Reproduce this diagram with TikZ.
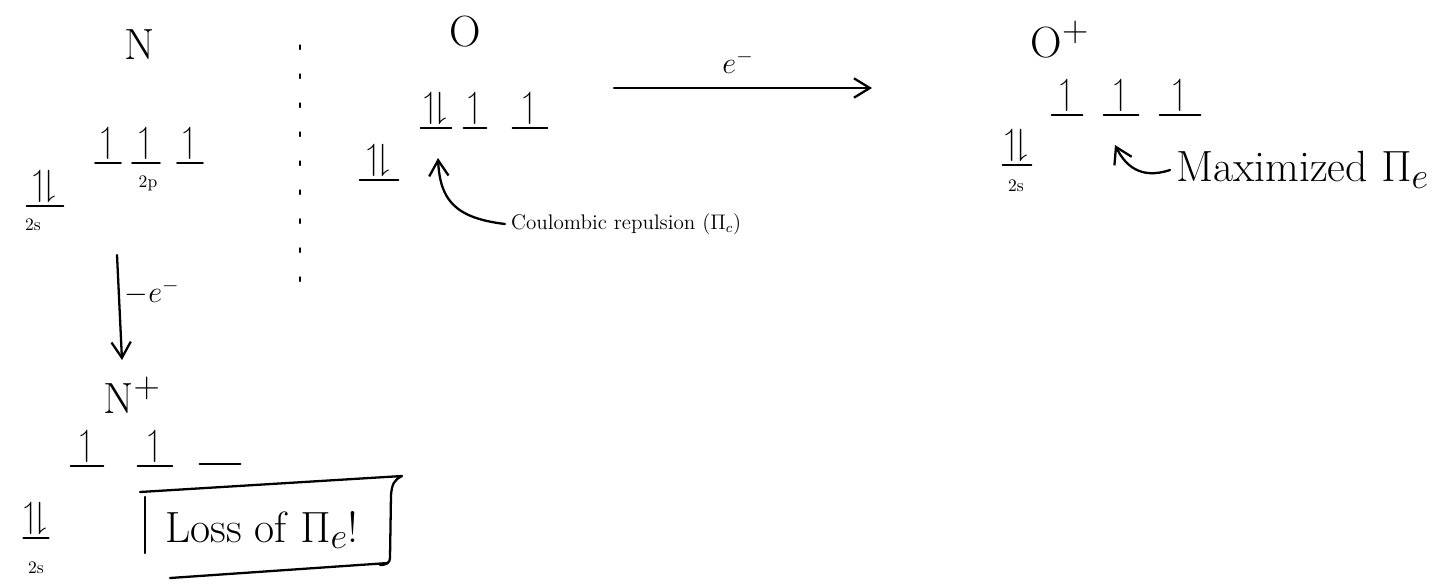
\documentclass[tikz,border=0pt]{standalone}
\usepackage{amssymb}
\usetikzlibrary{arrows.meta,calc}
\tikzset{
  x=0.02cm, y=-0.02cm,
  ink/.style={line width=1.3pt, line cap=round, line join=round},
  orb/.style={inner xsep=0pt, inner ysep=1.5pt, anchor=south, font=\huge,
     text height=2.2ex, append after command={(\tikzlastnode.south west) edge[ink] (\tikzlastnode.south east)}},
  atom/.style={font=\Huge},
  sub/.style={font=\normalsize},
  note/.style={font=\LARGE},
  tip/.style={-{Straight Barb[length=9pt,width=11pt]}, ink},
}
\newcommand{\up}{$\upharpoonleft$}
\newcommand{\pair}{$\upharpoonleft\!\downharpoonright$}
\begin{document}
\begin{tikzpicture}
\useasboundingbox (0,0) rectangle (1454,586);
% ---- N ----
\node[atom] (N) at (140,45) {N};
\node[orb, minimum width=25*0.02cm] (n2pa) at (108,163) {\up};
\node[orb, minimum width=27*0.02cm] (n2pb) at (146,163) {\up};
\node[orb, minimum width=25*0.02cm] (n2pc) at (190,163) {\up};
\node[sub] (n2pl) at (148,183) {2p};
\node[orb, minimum width=36*0.02cm] (n2s) at (45,206) {\pair};
\node[sub] (n2sl) at (33,225) {2s};
% dotted separator
\coordinate (sepa) at (300,45);
\coordinate (sepb) at (300,290);
\draw[ink, line width=0.7pt, dash pattern=on 2.5pt off 14pt] (sepa) -- (sepb);
% ionisation arrow
\coordinate (da) at (117,255);
\coordinate (db) at (122,360);
\draw[tip] (da) -- (db);
\node[note] (minus) at (152,292) {$-e^-$};
% ---- N+ ----
\node[atom] (Np) at (132,395) {N$^+$};
\node[orb, minimum width=32*0.02cm] (npa) at (87,466) {\up};
\node[orb, minimum width=34*0.02cm] (npb) at (155,466) {\up};
\node[orb, minimum width=40*0.02cm] (npc) at (220,464) {};
\node[orb, minimum width=22*0.02cm] (nps) at (36,538) {\pair};
\node[sub] (npsl) at (36,568) {2s};
% Loss box
\node[font=\Huge] (loss) at (262,530) {Loss of $\Pi_e$!};
\draw[ink] (140,492) -- (402,476) .. controls (394,480) and (392,484) .. (391,495) -- (390,558) .. controls (390,563) and (386,565) .. (380,565);
\draw[ink] (145,497) -- (145,553);
\draw[ink] (170,578) -- (388,563);
% ---- O ----
\node[atom] (O) at (465,32) {O};
\node[orb, minimum width=30*0.02cm] (o2pa) at (436,128) {\pair};
\node[orb, minimum width=22*0.02cm] (o2pb) at (475,128) {\up};
\node[orb, minimum width=34*0.02cm] (o2pc) at (530,128) {\up};
\node[orb, minimum width=38*0.02cm] (o2s) at (379,180) {\pair};
\node[font=\large, anchor=west] (coul) at (505,224) {Coulombic repulsion ($\Pi_c$)};
\draw[tip] (coul.west) .. controls (455,218) and (440,200) .. ($(o2pa.south)+(2,30)$);
% electron transfer arrow
\coordinate (ea) at (614,88);
\coordinate (eb) at (872,88);
\draw[tip] (ea) -- (eb);
\node[note] (elab) at (738,62) {$e^-$};
% ---- O+ ----
\node[atom] (Op) at (1060,40) {O$^+$};
\node[orb, minimum width=30*0.02cm] (opa) at (1067,115) {\up};
\node[orb, minimum width=34*0.02cm] (opb) at (1121,115) {\up};
\node[orb, minimum width=40*0.02cm] (opc) at (1180,115) {\up};
\node[orb, minimum width=28*0.02cm] (ops) at (1017,165) {\pair};
\node[sub] (opsl) at (1016,186) {2s};
\node[font=\Huge, anchor=west] (maxi) at (1170,170) {Maximized $\Pi_e$};
\draw[tip] (maxi.west) .. controls (1140,180) and (1125,165) .. ($(opb.south)+(-6,30)$);
\end{tikzpicture}
\end{document}
